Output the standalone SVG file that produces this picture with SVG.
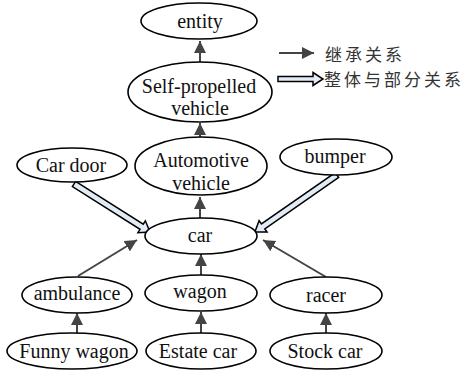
<svg xmlns="http://www.w3.org/2000/svg" width="465" height="372" viewBox="0 0 465 372">
<style>
.n ellipse{fill:#fff;stroke:#000;stroke-width:1.6}
.n text{font-family:'Liberation Serif','Times New Roman',serif;font-size:20px;fill:#111;text-anchor:middle}
.inh{stroke:#444;stroke-width:2;fill:none;marker-end:url(#tri)}
.part{fill:#e3ebf6;stroke:#000;stroke-width:1.5;stroke-linejoin:miter}
.leg{font-family:'Noto Sans CJK SC','Noto Sans',sans-serif;font-size:17px;letter-spacing:3px;fill:#333}
</style>
<defs>
<marker id="tri" viewBox="0 0 12 12" refX="12" refY="6" markerWidth="12" markerHeight="12" markerUnits="userSpaceOnUse" orient="auto">
<path d="M0,0 L12,6 L0,12 Z" fill="#444"/>
</marker>
</defs>
<rect width="465" height="372" fill="#fff"/>
<g id="connectors">
<line class="inh" x1="200" y1="62" x2="200" y2="41"/>
<line class="inh" x1="200" y1="137" x2="200" y2="123"/>
<line class="inh" x1="200" y1="218" x2="200" y2="197"/>
<line class="inh" x1="201" y1="275" x2="201" y2="254"/>
<line class="inh" x1="78" y1="276" x2="137" y2="240"/>
<line class="inh" x1="326" y1="277" x2="263" y2="240"/>
<line class="inh" x1="77" y1="333" x2="77" y2="313"/>
<line class="inh" x1="201" y1="333" x2="201" y2="312"/>
<line class="inh" x1="326" y1="333" x2="326" y2="313"/>
<polygon class="part" transform="translate(74,184) rotate(32.3)" points="0,-3 80,-3 80,-7 90,0 80,7 80,3 0,3"/>
<polygon class="part" transform="translate(337,175) rotate(145.2)" points="0,-3 90,-3 90,-7 100,0 90,7 90,3 0,3"/>
</g>
<g id="legend">
<line class="inh" x1="279" y1="53" x2="314" y2="53"/>
<text class="leg" x="325" y="60.5">继承关系</text>
<polygon class="part" transform="translate(278,79)" points="0,-2.5 35,-2.5 35,-6.5 45,0 35,6.5 35,2.5 0,2.5"/>
<text class="leg" x="324" y="85.5">整体与部分关系</text>
</g>
<g id="entity" class="n"><ellipse cx="199" cy="21" rx="58" ry="18"/><text x="200" y="28">entity</text></g>
<g id="self-propelled" class="n"><ellipse cx="200" cy="92" rx="72" ry="30"/><text x="199" y="93">Self-propelled</text><text x="200" y="115">vehicle</text></g>
<g id="car-door" class="n"><ellipse cx="72" cy="165" rx="55" ry="17"/><text x="71" y="172">Car door</text></g>
<g id="automotive" class="n"><ellipse cx="201" cy="166" rx="66" ry="29"/><text x="201" y="167">Automotive</text><text x="201" y="190">vehicle</text></g>
<g id="bumper" class="n"><ellipse cx="336" cy="157" rx="56" ry="18"/><text x="335" y="163">bumper</text></g>
<g id="car" class="n"><ellipse cx="201" cy="236" rx="56" ry="18"/><text x="200" y="242">car</text></g>
<g id="ambulance" class="n"><ellipse cx="77" cy="295" rx="55" ry="18"/><text x="77" y="300">ambulance</text></g>
<g id="wagon" class="n"><ellipse cx="201" cy="293" rx="56" ry="18"/><text x="200" y="298">wagon</text></g>
<g id="racer" class="n"><ellipse cx="326" cy="295" rx="56" ry="18"/><text x="326" y="302">racer</text></g>
<g id="funny-wagon" class="n"><ellipse cx="72" cy="351" rx="65" ry="18"/><text x="74" y="358">Funny wagon</text></g>
<g id="estate-car" class="n"><ellipse cx="201" cy="351" rx="55" ry="18"/><text x="198" y="358">Estate car</text></g>
<g id="stock-car" class="n"><ellipse cx="326" cy="351" rx="56" ry="18"/><text x="325" y="358">Stock car</text></g>
</svg>
